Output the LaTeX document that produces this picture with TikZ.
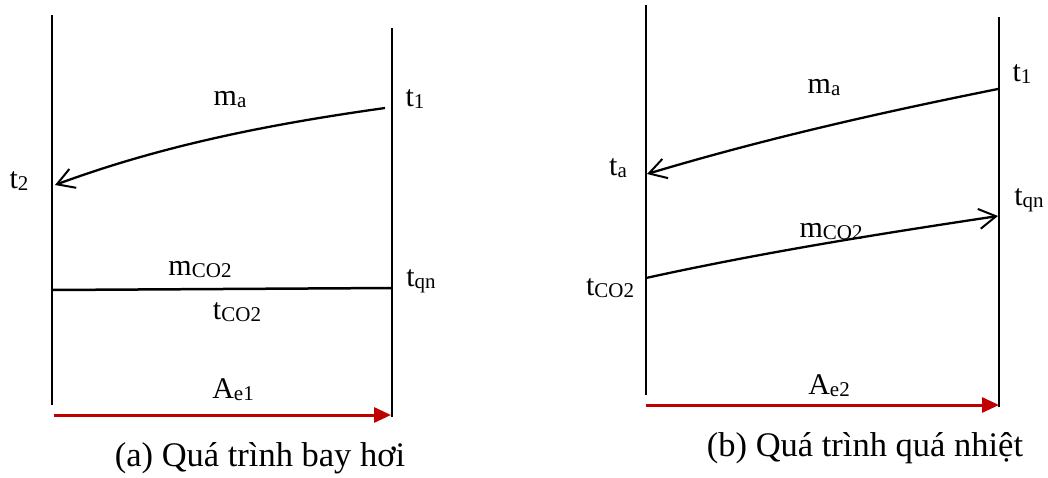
\documentclass[tikz,border=0pt]{standalone}
\usepackage{fontspec}
\setmainfont{Liberation Serif}
\usetikzlibrary{arrows.meta}
\definecolor{arrred}{RGB}{192,0,0}
\newcommand\lsub[1]{\raisebox{-2pt}{\fontsize{21}{21}\selectfont #1}}
\tikzset{
  lbl/.style={inner sep=0pt, font=\fontsize{30}{30}\selectfont},
  captxt/.style={inner sep=0pt, font=\fontsize{34.5}{36}\selectfont},
  wall/.style={line width=1.8pt, black},
  flow/.style={line width=2.3pt, black, -{Straight Barb[length=17pt,width=20pt,line width=2pt]}},
  plain/.style={line width=2.5pt, black},
  area/.style={line width=3pt, arrred, -{Triangle[length=17pt,width=15pt]}}
}
\begin{document}
\begin{tikzpicture}[x=1pt,y=-1pt]
\useasboundingbox (0,0) rectangle (1048,477);
% ---------- panel (a) ----------
\coordinate (aLT) at (52,15);
\coordinate (aLB) at (52,405);
\coordinate (aRT) at (392,28);
\coordinate (aRB) at (392,417);
\draw[wall] (aLT) -- (aLB);
\draw[wall] (aRT) -- (aRB);
\coordinate (amS) at (385,108);
\coordinate (amE) at (55,185);
\draw[flow] (amS) .. controls (275,123.4) and (165,144.3) .. (amE);
\coordinate (acL) at (52,290);
\coordinate (acR) at (392,288);
\draw[plain] (acL) -- (acR);
\coordinate (aaS) at (54,415);
\coordinate (aaE) at (391,415);
\draw[area] (aaS) -- (aaE);
\node[lbl] (ama) at (230,100) {m\lsub{a}};
\node[lbl] (at1) at (415,99) {t\lsub{1}};
\node[lbl] (at2) at (19,181) {t\lsub{2}};
\node[lbl] (amc) at (200,270) {m\lsub{CO2}};
\node[lbl] (atq) at (421,281) {t\lsub{qn}};
\node[lbl] (atc) at (237,312) {t\lsub{CO2}};
\node[lbl] (aA) at (233,390) {A\lsub{e1}};
\node[captxt] (acap) at (260,458) {(a) Quá trình bay hơi};
% ---------- panel (b) ----------
\coordinate (bLT) at (646,5);
\coordinate (bLB) at (646,395);
\coordinate (bRT) at (999,17);
\coordinate (bRB) at (999,407);
\draw[wall] (bLT) -- (bLB);
\draw[wall] (bRT) -- (bRB);
\coordinate (bmS) at (998,89);
\coordinate (bmE) at (647,174);
\draw[flow] (bmS) .. controls (881,112.4) and (764,138.9) .. (bmE);
\coordinate (bcS) at (646,278);
\coordinate (bcE) at (998,216);
\draw[flow] (bcS) .. controls (763,252.3) and (881,233.6) .. (bcE);
\coordinate (baS) at (646,405);
\coordinate (baE) at (999,405);
\draw[area] (baS) -- (baE);
\node[lbl] (bma) at (824,88) {m\lsub{a}};
\node[lbl] (bt1) at (1022,74) {t\lsub{1}};
\node[lbl] (bta) at (618,168) {t\lsub{a}};
\node[lbl] (btq) at (1029,200) {t\lsub{qn}};
\node[lbl] (bmc) at (831,232) {m\lsub{CO2}};
\node[lbl] (btc) at (610,288) {t\lsub{CO2}};
\node[lbl] (bA) at (829,386) {A\lsub{e2}};
\node[captxt] (bcap) at (865,448) {(b) Quá trình quá nhiệt};
\end{tikzpicture}
\end{document}
